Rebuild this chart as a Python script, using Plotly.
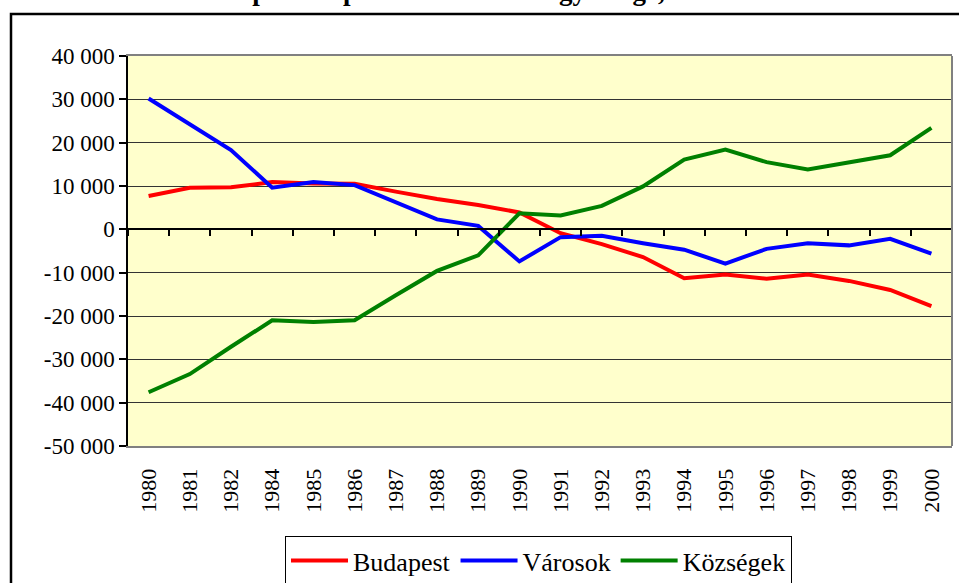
import plotly.graph_objects as go

years = ["1980", "1981", "1982", "1984", "1985", "1986", "1987", "1988", "1989", "1990",
         "1991", "1992", "1993", "1994", "1995", "1996", "1997", "1998", "1999", "2000"]

budapest = [7700, 9600, 9700, 10900, 10600, 10500, 8700, 7000, 5600, 3900,
            -900, -3400, -6400, -11300, -10400, -11400, -10400, -11900, -14000, -17700]
varosok = [30200, 24200, 18300, 9600, 10900, 10200, 6200, 2300, 800, -7400,
           -1800, -1500, -3200, -4700, -7900, -4500, -3200, -3700, -2200, -5600]
kozsegek = [-37600, -33400, -27100, -21000, -21400, -21000, -15200, -9600, -6000, 3700,
            3200, 5400, 9900, 16100, 18400, 15500, 13800, 15500, 17100, 23400]

series_names = ["Budapest", "Városok", "Községek"]
series_colors = ["#FF0000", "#0000FF", "#008000"]

y_tick_vals = [40000, 30000, 20000, 10000, 0, -10000, -20000, -30000, -40000, -50000]
y_tick_text = ["40 000", "30 000", "20 000", "10 000", "0", "-10 000", "-20 000",
               "-30 000", "-40 000", "-50 000"]

title_text = "A települési típusok vándorlási egyenlege, 1980–2000"

FONT = "Liberation Serif"

fig = go.Figure()
for name, vals, col in zip(series_names, [budapest, varosok, kozsegek], series_colors):
    fig.add_trace(go.Scatter(x=years, y=vals, name=name, mode="lines",
                             line=dict(color=col, width=4)))

W, H = 959, 583
L, R, T, B = 128, 7, 56, 137
ph = H - T - B
pw = W - L - R

def px2x(x):
    return (x - L) / pw

def px2y(y):
    return (H - B - y) / ph

fig.update_layout(
    width=W, height=H,
    margin=dict(l=L, r=R, t=T, b=B, pad=0, autoexpand=False),
    paper_bgcolor="white",
    plot_bgcolor="#FFFFCC",
    font=dict(family=FONT, color="black", size=22),
    showlegend=True,
    legend=dict(
        orientation="h", x=px2x(538.5), xanchor="center", y=px2y(536), yanchor="top",
        bgcolor="white", bordercolor="black", borderwidth=1,
        font=dict(family=FONT, size=26, color="black"),
        itemwidth=57, tracegroupgap=0,
    ),
    xaxis=dict(
        type="category", categoryorder="array", categoryarray=years,
        range=[-0.5, len(years) - 0.5],
        showgrid=False, zeroline=False,
        showline=True, linecolor="#808080", linewidth=2, mirror=True,
        ticks="", tickangle=-90,
        tickfont=dict(family=FONT, size=22, color="black"),
        ticklabelstandoff=12,
    ),
    xaxis2=dict(
        type="category", categoryorder="array", categoryarray=years,
        range=[-0.5, len(years) - 0.5],
        overlaying="x", anchor="free", position=50000 / 90000,
        side="bottom",
        showgrid=False, zeroline=False,
        showline=True, linecolor="black", linewidth=1.5,
        ticks="outside", ticklen=6, tickcolor="black", tickwidth=1.5,
        tickson="boundaries", showticklabels=False,
    ),
    yaxis=dict(
        range=[-50000, 40000],
        tickmode="array", tickvals=y_tick_vals, ticktext=y_tick_text,
        showgrid=True, gridcolor="#333333", gridwidth=1,
        zeroline=False,
        showline=True, linecolor="black", linewidth=1.5,
        ticks="outside", ticklen=7, tickcolor="black", tickwidth=1.5,
        tickfont=dict(family=FONT, size=23, color="black"),
    ),
)

# reference so xaxis2 (category ticks on the zero line) renders
fig.add_trace(go.Scatter(x=[years[0]], y=[None], xaxis="x2", showlegend=False,
                         hoverinfo="skip", mode="lines"))

shapes = [
    dict(type="line", xref="paper", yref="paper", x0=1, x1=1, y0=0, y1=1,
         line=dict(color="#808080", width=2)),
    dict(type="rect", xref="paper", yref="paper",
         x0=px2x(11), x1=px2x(966), y0=px2y(14), y1=px2y(600),
         line=dict(color="black", width=2.5), fillcolor="rgba(0,0,0,0)"),
]
fig.update_layout(shapes=shapes)

fig.add_annotation(
    text="<b>" + title_text + "</b>", xref="paper", yref="paper",
    x=px2x(490), y=px2y(7), xanchor="center", yanchor="bottom",
    showarrow=False, font=dict(family=FONT, size=27, color="black"),
    borderpad=0,
)

fig.write_html(
    "out.html",
    config={"displayModeBar": False},
    post_script="document.body.style.margin='0';document.body.style.overflow='hidden';",
)
